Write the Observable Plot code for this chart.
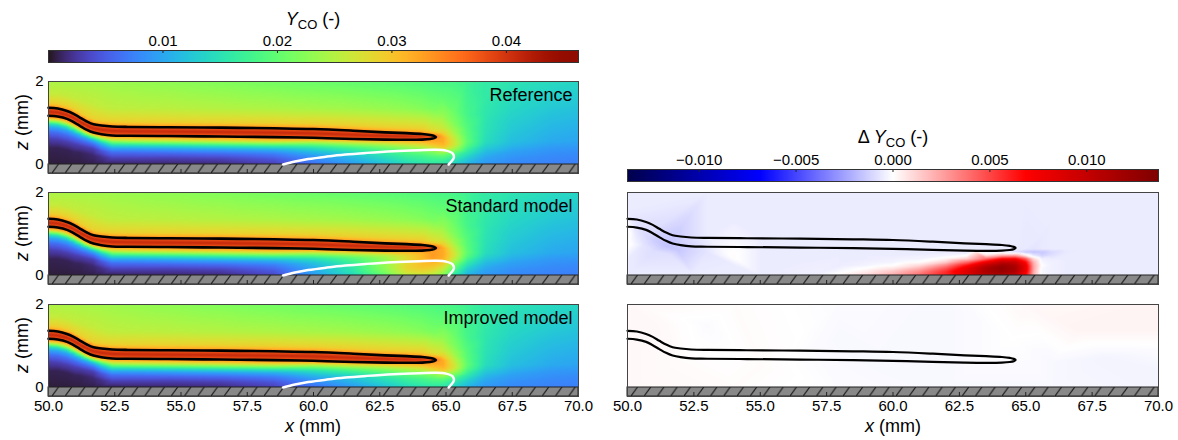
<!DOCTYPE html>
<html><head><meta charset="utf-8">
<script src="https://cdn.jsdelivr.net/npm/d3@7"></script>
<script src="https://cdn.jsdelivr.net/npm/@observablehq/plot@0.6"></script>
<style>
body{margin:0;background:#fff;font-family:"Liberation Sans",Arial,sans-serif;color:#000;}
#root{position:relative;width:1178px;height:440px;overflow:hidden;background:#fff;}
#root svg{position:absolute;overflow:visible;}
.lbl{position:absolute;transform:translate(-50%,-50%);white-space:nowrap;font-size:18px;line-height:1;}
.rot{transform:translate(-50%,-50%) rotate(-90deg);}
sub{font-size:13px;vertical-align:-4px;line-height:0;}
</style></head><body><div id="root"></div>
<script>
// ---------- axes / scales ----------
const xDomain = [50, 70];
const zDomain = [-0.217, 2];
const xTicks = [50, 52.5, 55, 57.5, 60, 62.5, 65, 67.5, 70];
const zTicks = [0, 2];
const ycoDomain = [0, 0.0463];
const ycoTicks = [0.01, 0.02, 0.03, 0.04];
const dDomain = [-0.0137, 0.0137];
const dTicks = [-0.010, -0.005, 0.000, 0.005, 0.010];
const seismicColors = ["#00004c", "#0000ff", "#ffffff", "#ff0000", "#7f0000"];
const panelLabels = ["Reference", "Standard model", "Improved model"];

// ---------- flame contour (black) and white contour ----------
const flameX = [50, 50.35, 50.7, 50.95, 51.2, 51.45, 51.7, 52.0, 52.4, 53, 54.5, 56.5, 58.5, 60, 61.5, 62.7, 63.5, 64.1, 64.4, 64.55, 64.62,
                64.55, 64.4, 64.1, 63.5, 62.7, 61.5, 60, 58.5, 56.5, 54.5, 53, 52.4, 52.0, 51.7, 51.45, 51.2, 50.95, 50.7, 50.35, 50];
const flameZ = [1.366, 1.35, 1.29, 1.22, 1.125, 1.036, 0.97, 0.94, 0.916, 0.905, 0.898, 0.888, 0.872, 0.855, 0.815, 0.775, 0.755, 0.735, 0.712, 0.69, 0.662,
                0.635, 0.615, 0.60, 0.595, 0.60, 0.615, 0.643, 0.66, 0.673, 0.685, 0.693, 0.70, 0.73, 0.77, 0.835, 0.925, 1.02, 1.10, 1.155, 1.175];
const whiteX = [58.85, 59.3, 59.8, 60.5, 61.2, 62, 63, 64, 64.6, 65.0, 65.25, 65.3, 65.2, 65.1];
const whiteZ = [0, 0.07, 0.13, 0.19, 0.24, 0.28, 0.32, 0.345, 0.355, 0.335, 0.27, 0.17, 0.07, 0];

// ---------- Y_CO field: vertical profiles at stations ----------
const stationX = [50, 50.35, 50.7, 50.95, 51.2, 51.45, 51.7, 52.0, 52.4, 53.0, 54.5, 56.5, 58.5, 60.0, 61.5, 62.7, 63.5, 64.1, 64.5, 64.9, 65.3, 65.8, 66.5, 67.5, 69.0, 70.0];
// upper part (flame band and above) - shared by the three models
const upperZ = [
  [1.175, 1.27, 1.366, 1.41, 1.49, 1.7, 2.0],
  [1.155, 1.252, 1.35, 1.39, 1.47, 1.7, 2.0],
  [1.10, 1.195, 1.29, 1.33, 1.41, 1.65, 2.0],
  [1.02, 1.12, 1.22, 1.26, 1.34, 1.6, 2.0],
  [0.925, 1.025, 1.125, 1.165, 1.245, 1.55, 2.0],
  [0.835, 0.935, 1.036, 1.076, 1.156, 1.5, 2.0],
  [0.77, 0.87, 0.97, 1.01, 1.09, 1.45, 2.0],
  [0.73, 0.835, 0.94, 0.98, 1.06, 1.4, 2.0],
  [0.70, 0.808, 0.916, 0.956, 1.036, 1.35, 2.0],
  [0.693, 0.80, 0.905, 0.945, 1.025, 1.35, 2.0],
  [0.685, 0.79, 0.898, 0.938, 1.018, 1.35, 2.0],
  [0.673, 0.78, 0.888, 0.928, 1.008, 1.35, 2.0],
  [0.66, 0.765, 0.872, 0.912, 0.992, 1.35, 2.0],
  [0.643, 0.75, 0.855, 0.895, 0.975, 1.35, 2.0],
  [0.615, 0.715, 0.815, 0.855, 0.935, 1.35, 2.0],
  [0.60, 0.688, 0.775, 0.815, 0.895, 1.35, 2.0],
  [0.595, 0.675, 0.755, 0.795, 0.875, 1.35, 2.0],
  [0.60, 0.667, 0.735, 0.775, 0.855, 1.35, 2.0],
  [0.625, 0.662, 0.70, 0.74, 0.82, 1.35, 2.0],
  [0.55, 0.65, 0.75, 0.9, 1.2, 1.6, 2.0],
  [0.55, 0.65, 0.8, 1.0, 1.3, 2.0],
  [0.55, 0.7, 0.9, 1.2, 2.0],
  [0.55, 0.8, 1.2, 1.6, 2.0],
  [0.55, 0.9, 1.3, 2.0],
  [0.55, 1.0, 1.5, 2.0],
  [0.55, 1.0, 1.5, 2.0]
];
const upperY = [
  [0.037, 0.041, 0.037, 0.032, 0.029, 0.026, 0.0245],
  [0.037, 0.041, 0.037, 0.032, 0.029, 0.026, 0.0245],
  [0.037, 0.041, 0.037, 0.032, 0.029, 0.026, 0.0243],
  [0.037, 0.041, 0.037, 0.032, 0.029, 0.026, 0.0243],
  [0.037, 0.041, 0.037, 0.032, 0.029, 0.026, 0.0242],
  [0.037, 0.041, 0.037, 0.032, 0.029, 0.026, 0.0241],
  [0.037, 0.041, 0.037, 0.032, 0.029, 0.026, 0.0240],
  [0.037, 0.041, 0.037, 0.032, 0.029, 0.0258, 0.0239],
  [0.037, 0.041, 0.037, 0.032, 0.029, 0.0257, 0.0237],
  [0.037, 0.041, 0.037, 0.032, 0.029, 0.0256, 0.0234],
  [0.037, 0.041, 0.037, 0.032, 0.029, 0.0254, 0.0228],
  [0.037, 0.041, 0.037, 0.032, 0.029, 0.0250, 0.0220],
  [0.037, 0.041, 0.037, 0.032, 0.029, 0.0246, 0.0212],
  [0.037, 0.041, 0.037, 0.032, 0.029, 0.0242, 0.0206],
  [0.037, 0.041, 0.037, 0.032, 0.029, 0.0238, 0.0200],
  [0.037, 0.041, 0.037, 0.032, 0.029, 0.0233, 0.0195],
  [0.037, 0.041, 0.037, 0.032, 0.029, 0.0228, 0.0191],
  [0.037, 0.040, 0.037, 0.032, 0.029, 0.0222, 0.0188],
  [0.036, 0.038, 0.036, 0.032, 0.028, 0.0215, 0.0185],
  [0.032, 0.032, 0.029, 0.026, 0.023, 0.0200, 0.0182],
  [0.027, 0.026, 0.024, 0.022, 0.0205, 0.018],
  [0.020, 0.0195, 0.019, 0.018, 0.0172],
  [0.0145, 0.015, 0.0155, 0.016, 0.016],
  [0.0118, 0.0128, 0.0138, 0.0152],
  [0.0102, 0.0115, 0.013, 0.0142],
  [0.0098, 0.011, 0.0125, 0.0138]
];
// lower part (wall to flame band)
const lowerZ = [
  [0, 0.4, 0.62, 0.78, 0.9, 0.98, 1.03, 1.08, 1.13],
  [0, 0.4, 0.6, 0.76, 0.88, 0.96, 1.01, 1.06, 1.11],
  [0, 0.35, 0.55, 0.7, 0.82, 0.9, 0.95, 1.0, 1.055],
  [0, 0.3, 0.5, 0.64, 0.75, 0.83, 0.88, 0.93, 0.975],
  [0, 0.28, 0.46, 0.58, 0.68, 0.75, 0.8, 0.845, 0.885],
  [0, 0.25, 0.42, 0.53, 0.62, 0.68, 0.72, 0.76, 0.8],
  [0, 0.22, 0.38, 0.48, 0.56, 0.62, 0.66, 0.7, 0.735],
  [0, 0.18, 0.33, 0.43, 0.51, 0.57, 0.62, 0.66, 0.695],
  [0, 0.15, 0.29, 0.39, 0.47, 0.54, 0.59, 0.63, 0.665],
  [0, 0.15, 0.28, 0.38, 0.46, 0.53, 0.58, 0.62, 0.658],
  [0, 0.15, 0.27, 0.37, 0.45, 0.52, 0.57, 0.61, 0.65],
  [0, 0.14, 0.26, 0.36, 0.44, 0.51, 0.56, 0.60, 0.638],
  [0, 0.13, 0.25, 0.35, 0.43, 0.50, 0.55, 0.59, 0.625],
  [0, 0.1, 0.2, 0.3, 0.4, 0.48, 0.54, 0.58, 0.61],
  [0, 0.1, 0.2, 0.3, 0.4, 0.47, 0.52, 0.56, 0.59],
  [0, 0.1, 0.2, 0.3, 0.38, 0.45, 0.5, 0.54, 0.57],
  [0, 0.1, 0.2, 0.3, 0.38, 0.45, 0.5, 0.54, 0.57],
  [0, 0.1, 0.2, 0.3, 0.38, 0.45, 0.5, 0.54, 0.57],
  [0, 0.1, 0.2, 0.3, 0.38, 0.45, 0.51, 0.56, 0.595],
  [0, 0.1, 0.2, 0.3, 0.4, 0.47],
  [0, 0.1, 0.2, 0.3, 0.4, 0.47],
  [0, 0.15, 0.3, 0.45],
  [0, 0.15, 0.3, 0.45],
  [0, 0.15, 0.3, 0.45],
  [0, 0.2, 0.4],
  [0, 0.2, 0.4]
];
const refLowerY = [
  [0.0005, 0.0009, 0.003, 0.006, 0.010, 0.015, 0.021, 0.027, 0.032],
  [0.0005, 0.0009, 0.003, 0.006, 0.010, 0.015, 0.021, 0.027, 0.032],
  [0.0005, 0.0009, 0.003, 0.006, 0.010, 0.015, 0.021, 0.027, 0.032],
  [0.0006, 0.0010, 0.003, 0.006, 0.010, 0.015, 0.021, 0.027, 0.032],
  [0.0006, 0.0010, 0.003, 0.006, 0.010, 0.015, 0.021, 0.027, 0.032],
  [0.0007, 0.0012, 0.003, 0.006, 0.010, 0.015, 0.021, 0.027, 0.032],
  [0.0007, 0.0014, 0.003, 0.006, 0.010, 0.015, 0.021, 0.027, 0.032],
  [0.0008, 0.0020, 0.0045, 0.008, 0.012, 0.017, 0.023, 0.028, 0.032],
  [0.0008, 0.003, 0.006, 0.010, 0.015, 0.021, 0.026, 0.029, 0.032],
  [0.0010, 0.003, 0.0058, 0.0095, 0.0145, 0.021, 0.026, 0.029, 0.032],
  [0.0012, 0.003, 0.0058, 0.0095, 0.0145, 0.021, 0.026, 0.029, 0.032],
  [0.0015, 0.0032, 0.006, 0.0098, 0.015, 0.0215, 0.0265, 0.0295, 0.0325],
  [0.003, 0.0045, 0.007, 0.0105, 0.0155, 0.022, 0.027, 0.030, 0.033],
  [0.006, 0.0075, 0.009, 0.0115, 0.015, 0.020, 0.025, 0.029, 0.032],
  [0.009, 0.0105, 0.012, 0.0145, 0.018, 0.022, 0.026, 0.029, 0.032],
  [0.012, 0.0135, 0.015, 0.017, 0.020, 0.023, 0.026, 0.029, 0.032],
  [0.014, 0.0155, 0.017, 0.019, 0.022, 0.025, 0.028, 0.030, 0.032],
  [0.015, 0.0165, 0.018, 0.0205, 0.0235, 0.027, 0.029, 0.031, 0.033],
  [0.0155, 0.017, 0.019, 0.022, 0.026, 0.029, 0.031, 0.032, 0.033],
  [0.0155, 0.017, 0.0195, 0.024, 0.029, 0.031],
  [0.0135, 0.015, 0.0175, 0.021, 0.025, 0.027],
  [0.011, 0.013, 0.016, 0.019],
  [0.0088, 0.0098, 0.0115, 0.0135],
  [0.0078, 0.0085, 0.0095, 0.011],
  [0.0073, 0.008, 0.009],
  [0.0072, 0.0078, 0.0088]
];
const stdLowerY = [
  [0.0005, 0.0009, 0.003, 0.006, 0.010, 0.015, 0.021, 0.027, 0.032],
  [0.0005, 0.0009, 0.003, 0.006, 0.010, 0.015, 0.021, 0.027, 0.032],
  [0.0005, 0.0009, 0.003, 0.006, 0.010, 0.015, 0.021, 0.027, 0.032],
  [0.0006, 0.0010, 0.003, 0.006, 0.010, 0.015, 0.021, 0.027, 0.032],
  [0.0006, 0.0010, 0.003, 0.006, 0.010, 0.015, 0.021, 0.027, 0.032],
  [0.0007, 0.0012, 0.003, 0.006, 0.010, 0.015, 0.021, 0.027, 0.032],
  [0.0007, 0.0014, 0.003, 0.006, 0.010, 0.015, 0.021, 0.027, 0.032],
  [0.0008, 0.0020, 0.0045, 0.008, 0.012, 0.017, 0.023, 0.028, 0.032],
  [0.0008, 0.003, 0.006, 0.010, 0.015, 0.021, 0.026, 0.029, 0.032],
  [0.0010, 0.003, 0.0058, 0.0095, 0.0145, 0.021, 0.026, 0.029, 0.032],
  [0.0012, 0.003, 0.0058, 0.0095, 0.0145, 0.021, 0.026, 0.029, 0.032],
  [0.0015, 0.0032, 0.006, 0.0098, 0.015, 0.0215, 0.0265, 0.0295, 0.0325],
  [0.0035, 0.005, 0.0072, 0.0105, 0.0155, 0.022, 0.027, 0.030, 0.033],
  [0.009, 0.010, 0.0105, 0.012, 0.015, 0.020, 0.025, 0.029, 0.032],
  [0.014, 0.0155, 0.016, 0.017, 0.019, 0.022, 0.026, 0.029, 0.032],
  [0.020, 0.022, 0.023, 0.023, 0.023, 0.024, 0.026, 0.029, 0.032],
  [0.025, 0.0275, 0.0285, 0.028, 0.028, 0.028, 0.029, 0.030, 0.032],
  [0.026, 0.0285, 0.030, 0.0305, 0.0305, 0.031, 0.031, 0.0315, 0.033],
  [0.025, 0.0275, 0.0295, 0.031, 0.0325, 0.033, 0.033, 0.033, 0.033],
  [0.022, 0.0245, 0.027, 0.0295, 0.0315, 0.032],
  [0.0155, 0.018, 0.0205, 0.023, 0.026, 0.027],
  [0.011, 0.013, 0.016, 0.019],
  [0.0088, 0.0098, 0.0115, 0.0135],
  [0.0078, 0.0085, 0.0095, 0.011],
  [0.0073, 0.008, 0.009],
  [0.0072, 0.0078, 0.0088]
];

// ---------- ΔY_CO (standard - reference) ----------
// background / far-field samples
const stdBgX = [50, 53, 56, 59, 62, 65, 67.5, 70, 70, 70, 70, 70, 68, 67, 68, 66, 62, 58, 54, 50, 55, 52.5, 50, 50, 54, 56.5, 57, 59, 55, 53, 60, 61, 62.5, 66.8, 67, 63, 50.05, 50.05, 54.0];
const stdBgZ = [2, 2, 2, 2, 2, 2, 2, 2, 1.3, 0.6, 0.25, 0, 0, 0, 1, 1.3, 1.3, 1.3, 1.3, 1.6, 0, 0, 0, 0.4, 0.25, 0.3, 0.0, 0.5, 0.9, 0.9, 0.7, 0.5, 0.8, 0.3, 0.6, 0.62, 0.95, 0.75, 0.45];
const stdBgV = [-0.0005, -0.0005, -0.0005, -0.0005, -0.0005, -0.0005, -0.0005, -0.0005, -0.0005, -0.0005, -0.0005, -0.0005, -0.0005, -0.0005, -0.0005, -0.0005, -0.0005, -0.0005, -0.0005, -0.0005, -0.0005, -0.0005, -0.0005, -0.0005, -0.0005, -0.0005, -0.0004, -0.0005, -0.0005, -0.0005, -0.0005, -0.0005, -0.0005, -0.0005, -0.0005, -0.0005, 0.0002, 0.0001, 0.0001];
// blue patch below the flame bend
const stdBendX = [50.3, 50.7, 51.1, 51.5, 51.9, 52.4, 53.0, 51.0, 51.6, 50.6];
const stdBendZ = [1.05, 0.95, 0.82, 0.7, 0.62, 0.57, 0.55, 0.6, 0.5, 0.72];
const stdBendV = [-0.0006, -0.0010, -0.0014, -0.0016, -0.0015, -0.0011, -0.0007, -0.0009, -0.0008, -0.0007];
// near-wall excess (red blob), on a small grid
const blobX = [58.0, 59.0, 60.0, 61.0, 62.0, 62.8, 63.5, 64.1, 64.6, 65.0, 65.3, 65.6, 66.0, 66.5];
const blobZ = [0, 0.08, 0.16, 0.24, 0.32, 0.40, 0.48, 0.56, 0.64];
const blobV = [
  [0.0002, 0.0010, 0.0022, 0.0038, 0.0058, 0.0080, 0.0100, 0.0105, 0.0095, 0.0065, 0.0018, -0.0002, -0.0004, -0.0005],
  [-0.0001, 0.0006, 0.0017, 0.0033, 0.0058, 0.0088, 0.0113, 0.0122, 0.0110, 0.0075, 0.0022, -0.0002, -0.0004, -0.0005],
  [-0.0003, 0.0001, 0.0008, 0.0022, 0.0048, 0.0082, 0.0115, 0.0127, 0.0115, 0.0080, 0.0024, -0.0002, -0.0004, -0.0005],
  [-0.0005, -0.0003, 0.0000, 0.0010, 0.0033, 0.0066, 0.0103, 0.0122, 0.0112, 0.0078, 0.0024, 0.0000, -0.0004, -0.0005],
  [-0.0005, -0.0004, -0.0003, 0.0000, 0.0014, 0.0040, 0.0076, 0.0102, 0.0098, 0.0068, 0.0020, -0.0002, -0.0004, -0.0005],
  [-0.0005, -0.0005, -0.0004, -0.0003, 0.0003, 0.0014, 0.0040, 0.0068, 0.0070, 0.0045, 0.0010, -0.0004, -0.0005, -0.0005],
  [-0.0005, -0.0005, -0.0005, -0.0004, -0.0003, 0.0000, 0.0009, 0.0022, 0.0025, 0.0005, -0.0006, -0.0012, -0.0008, -0.0005],
  [-0.0005, -0.0005, -0.0005, -0.0005, -0.0005, -0.0005, -0.0004, -0.0003, -0.0009, -0.0014, -0.0016, -0.0015, -0.0010, -0.0006],
  [-0.0005, -0.0005, -0.0005, -0.0005, -0.0005, -0.0005, -0.0005, -0.0005, -0.0005, -0.0006, -0.0007, -0.0006, -0.0005, -0.0005]
];
// ---------- ΔY_CO (improved - reference) ----------
const impDiffX = [50, 54, 58, 62, 65, 70, 70, 70, 70, 70, 66, 62, 58, 54, 50, 50, 51, 53, 58, 62, 64.5, 67, 66, 68, 60, 55, 52];
const impDiffZ = [2, 2, 2, 2, 2, 2, 1.4, 0.9, 0.4, 0, 0, 0, 0, 0, 0, 1, 1.5, 1.5, 1.2, 1.2, 1.2, 1.4, 0.6, 0.7, 0.5, 0.5, 0.6];
const impDiffV = [0.0002, 0.0001, -0.0001, -0.0002, 0.0002, 0.0003, 0.0003, -0.0001, -0.0003, -0.0003, -0.0002, -0.0002, -0.0001, 0.0001, 0.0002, 0.0002, 0.0002, -0.0001, -0.0002, -0.0002, 0, 0.0003, -0.0002, -0.0003, -0.0002, 0.0001, 0.0001];

// ---------- build tables ----------
function profileTable(lowerY) {
  const rows = [];
  stationX.forEach((x, i) => {
    lowerZ[i].forEach((z, j) => rows.push({x, z, v: lowerY[i][j]}));
    upperZ[i].forEach((z, j) => rows.push({x, z, v: upperY[i][j]}));
  });
  return rows;
}
const zip3 = (X, Z, V) => X.map((x, i) => ({x, z: Z[i], v: V[i]}));
const flame = zip3(flameX, flameZ, flameX.map(() => 0));
const white = zip3(whiteX, whiteZ, whiteX.map(() => 0));
const fields = [profileTable(refLowerY), profileTable(stdLowerY), profileTable(refLowerY)];
const blobRows = blobZ.flatMap((z, i) => blobX.map((x, j) => ({x, z, v: blobV[i][j]})));
const stdDiff = [...zip3(stdBgX, stdBgZ, stdBgV), ...zip3(stdBendX, stdBendZ, stdBendV), ...blobRows];
const impDiff = zip3(impDiffX, impDiffZ, impDiffV);

const root = document.getElementById("root");
const FONT = "'Liberation Sans', Arial, sans-serif";
const PH = 92, MT = 10;

function addHatch(svg, id, ml) {
  const ns = "http://www.w3.org/2000/svg";
  const defs = document.createElementNS(ns, "defs");
  const pat = document.createElementNS(ns, "pattern");
  const zeroY = MT + PH * (zDomain[1] / (zDomain[1] - zDomain[0]));
  const h = PH + MT - zeroY;
  pat.setAttribute("id", id);
  pat.setAttribute("patternUnits", "userSpaceOnUse");
  pat.setAttribute("x", ml + 4);
  pat.setAttribute("y", zeroY);
  pat.setAttribute("width", 13.25);
  pat.setAttribute("height", h);
  const r = document.createElementNS(ns, "rect");
  r.setAttribute("width", 13.25); r.setAttribute("height", h); r.setAttribute("fill", "#888888");
  const p = document.createElementNS(ns, "path");
  p.setAttribute("d", `M0,${h} L6.5,0`);
  p.setAttribute("stroke", "#111"); p.setAttribute("stroke-width", 1.1);
  pat.appendChild(r); pat.appendChild(p); defs.appendChild(pat);
  svg.insertBefore(defs, svg.firstChild);
}

function panel({rows, color, label, left, top, fw, ml, yLabels, xLabels, white: showWhite, lw, id}) {
  const mb = xLabels ? 28 : 4;
  const marks = [
    Plot.raster(rows, {x: "x", y: "z", fill: "v", interpolate: "barycentric", x1: xDomain[0], x2: xDomain[1], y1: 0, y2: zDomain[1]}),
    Plot.rect([0], {x1: () => xDomain[0], x2: () => xDomain[1], y1: () => zDomain[0], y2: () => 0, fill: `url(#${id})`, stroke: "#222", strokeWidth: 1}),
    Plot.line(flame, {x: "x", y: "z", stroke: "#000", strokeWidth: lw, curve: "catmull-rom"}),
  ];
  if (showWhite) marks.push(Plot.line(white, {x: "x", y: "z", stroke: "#fff", strokeWidth: 2.5, curve: "catmull-rom"}));
  marks.push(Plot.tickX(xTicks, {x: d => d, stroke: "#222", strokeWidth: 1, insetTop: PH - 4}));
  marks.push(Plot.frame({stroke: "#444", strokeWidth: 1}));
  if (label) marks.push(Plot.text([label], {frameAnchor: "top-right", dx: -6, dy: 7, fontSize: 18, fill: "#000", lineAnchor: "top", fontFamily: FONT}));
  if (yLabels) marks.push(Plot.axisY(zTicks, {tickSize: 0, tickPadding: 5, fontSize: 15, label: null, tickFormat: d => String(d)}));
  if (xLabels) marks.push(Plot.axisX(xTicks, {tickSize: 0, tickPadding: 4, fontSize: 15, label: null, tickFormat: d => d.toFixed(1)}));
  const svg = Plot.plot({
    width: ml + fw + 4, height: MT + PH + mb,
    marginLeft: ml, marginRight: 4, marginTop: MT, marginBottom: mb,
    x: {domain: xDomain, axis: null}, y: {domain: zDomain, axis: null},
    color,
    style: {fontFamily: FONT, fontSize: "15px", color: "#000", background: "transparent"},
    marks
  });
  addHatch(svg, id, ml);
  svg.style.left = (left - ml) + "px";
  svg.style.top = (top - MT) + "px";
  root.appendChild(svg);
}

function colorbar({domain, color, ticks, fmt, left, top, width}) {
  const pad = 14, mt = 23, h = 12;
  const svg = Plot.plot({
    width: width + 2 * pad, height: mt + h + 2,
    marginLeft: pad, marginRight: pad, marginTop: mt, marginBottom: 2,
    x: {domain, axis: null}, y: {domain: [0, 1], axis: null},
    color,
    style: {fontFamily: FONT, fontSize: "15px", color: "#000", background: "transparent"},
    marks: [
      Plot.raster({fill: (x, y) => x, x1: domain[0], x2: domain[1], y1: 0, y2: 1}),
      Plot.tickX(ticks, {x: d => d, stroke: "#222", insetBottom: h - 3}),
      Plot.frame({stroke: "#333", strokeWidth: 1}),
      Plot.axisX(ticks, {anchor: "top", tickSize: 0, tickPadding: 5, fontSize: 15, label: null, tickFormat: fmt})
    ]
  });
  svg.style.left = (left - pad) + "px";
  svg.style.top = (top - mt) + "px";
  root.appendChild(svg);
}

const turbo = {type: "linear", scheme: "turbo", domain: ycoDomain};
const seismic = {type: "linear", domain: dDomain, interpolate: d3.piecewise(d3.interpolateRgb, seismicColors)};

colorbar({domain: ycoDomain, color: turbo, ticks: ycoTicks, fmt: d3.format(".2f"), left: 48, top: 50, width: 530});
colorbar({domain: dDomain, color: seismic, ticks: dTicks, fmt: d3.format(".3f"), left: 627, top: 169, width: 531});

const tops = [81, 192, 304];
tops.forEach((t, i) => panel({rows: fields[i], color: turbo, label: panelLabels[i], left: 48, top: t, fw: 530, ml: 48,
  yLabels: true, xLabels: i === 2, white: true, lw: 2.6, id: "hatchL" + i}));
panel({rows: stdDiff, color: seismic, label: null, left: 627, top: tops[1], fw: 531, ml: 10,
  yLabels: false, xLabels: false, white: false, lw: 2.2, id: "hatchR1"});
panel({rows: impDiff, color: seismic, label: null, left: 627, top: tops[2], fw: 531, ml: 10,
  yLabels: false, xLabels: true, white: false, lw: 2.2, id: "hatchR2"});

// ---------- text labels ----------
function label(html, x, y, rot) {
  const d = document.createElement("div");
  d.className = "lbl" + (rot ? " rot" : "");
  d.style.left = x + "px"; d.style.top = y + "px";
  d.innerHTML = html;
  root.appendChild(d);
}
label("<i>Y</i><sub>CO</sub> (-)", 313, 19);
label("Δ <i>Y</i><sub>CO</sub> (-)", 893, 137);
label("<i>x</i> (mm)", 313, 426);
label("<i>x</i> (mm)", 893, 426);
tops.forEach(t => label("<i>z</i> (mm)", 22, t + 41, true));
</script></body></html>
